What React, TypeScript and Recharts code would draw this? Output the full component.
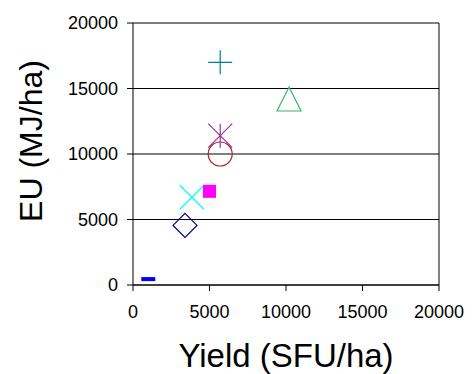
import React from "react";
import {
  CartesianGrid,
  Label,
  ReferenceLine,
  Scatter,
  ScatterChart,
  XAxis,
  YAxis,
} from "recharts";

// one point per series
const seriesNames = ["A", "B", "C", "D", "E", "F", "G", "H"];
const yieldValues = [1000, 3400, 3850, 5000, 5700, 5700, 5700, 10200];
const euValues = [450, 4550, 6700, 7150, 10000, 11400, 17000, 14200];
const markerKinds = ["dash", "diamond", "x", "square", "circle", "star", "plus", "triangle"];
const markerColors = ["#0000ff", "#000080", "#00ffff", "#ff00ff", "#a52a2a", "#993399", "#008080", "#3cb371"];

const axisTicks = [0, 5000, 10000, 15000, 20000];

const FONT = "'Liberation Sans', Arial, sans-serif";

const makeShape = (kind: string, color: string) => (props: any) => {
  const { cx, cy } = props;
  const r = 12;
  switch (kind) {
    case "dash":
      return <rect x={cx - 7} y={cy - 2} width={14} height={4} fill={color} />;
    case "diamond":
      return (
        <path
          d={`M${cx},${cy - r} L${cx + r},${cy} L${cx},${cy + r} L${cx - r},${cy} Z`}
          fill="none"
          stroke={color}
          strokeWidth={1.2}
        />
      );
    case "x":
      return (
        <path
          d={`M${cx - r},${cy - r} L${cx + r},${cy + r} M${cx + r},${cy - r} L${cx - r},${cy + r}`}
          stroke={color}
          strokeWidth={1.2}
        />
      );
    case "square":
      return <rect x={cx - 6.5} y={cy - 6.5} width={13} height={13} fill={color} />;
    case "circle":
      return <circle cx={cx} cy={cy} r={r} fill="none" stroke={color} strokeWidth={1.2} />;
    case "star":
      return (
        <path
          d={`M${cx - r},${cy - r} L${cx + r},${cy + r} M${cx + r},${cy - r} L${cx - r},${cy + r} M${cx},${cy - r} L${cx},${cy + r}`}
          stroke={color}
          strokeWidth={1.2}
        />
      );
    case "plus":
      return (
        <path
          d={`M${cx - r},${cy} L${cx + r},${cy} M${cx},${cy - r} L${cx},${cy + r}`}
          stroke={color}
          strokeWidth={1.2}
        />
      );
    case "triangle":
      return (
        <path
          d={`M${cx},${cy - r} L${cx + r},${cy + r} L${cx - r},${cy + r} Z`}
          fill="none"
          stroke={color}
          strokeWidth={1.2}
        />
      );
    default:
      return <g />;
  }
};

export default function App() {
  return (
    <div style={{ position: "absolute", left: 0, top: 0, width: 473, height: 374, background: "#fff" }}>
      <ScatterChart width={473} height={374} margin={{ top: 23, right: 34, left: 0, bottom: 0 }}>
        <CartesianGrid vertical={false} stroke="#000" strokeOpacity={1} />
        <XAxis
          type="number"
          dataKey="x"
          domain={[0, 20000]}
          ticks={axisTicks}
          height={89}
          tickSize={6}
          tickMargin={14}
          axisLine={{ stroke: "#000" }}
          tickLine={{ stroke: "#000" }}
          tick={{ fill: "#000", fontSize: 18, fontFamily: FONT }}
          interval={0}
        >
          <Label
            value="Yield (SFU/ha)"
            position="insideBottom"
            offset={7}
            style={{ fill: "#000", fontSize: 33, fontFamily: FONT }}
          />
        </XAxis>
        <YAxis
          type="number"
          dataKey="y"
          domain={[0, 20000]}
          ticks={axisTicks}
          width={133}
          tickSize={6}
          tickMargin={9}
          axisLine={{ stroke: "#000" }}
          tickLine={{ stroke: "#000" }}
          tick={{ fill: "#000", fontSize: 18, fontFamily: FONT }}
          interval={0}
        >
          <Label
            value="EU (MJ/ha)"
            position="center"
            angle={-90}
            dx={-36}
            dy={-13}
            style={{ fill: "#000", fontSize: 32, fontFamily: FONT, textAnchor: "middle" }}
          />
        </YAxis>
        <ReferenceLine x={20000} stroke="#000" ifOverflow="extendDomain" />
        {seriesNames.map((name, i) => (
          <Scatter
            key={name}
            name={name}
            data={[{ x: yieldValues[i], y: euValues[i] }]}
            shape={makeShape(markerKinds[i], markerColors[i])}
            isAnimationActive={false}
          />
        ))}
      </ScatterChart>
    </div>
  );
}
